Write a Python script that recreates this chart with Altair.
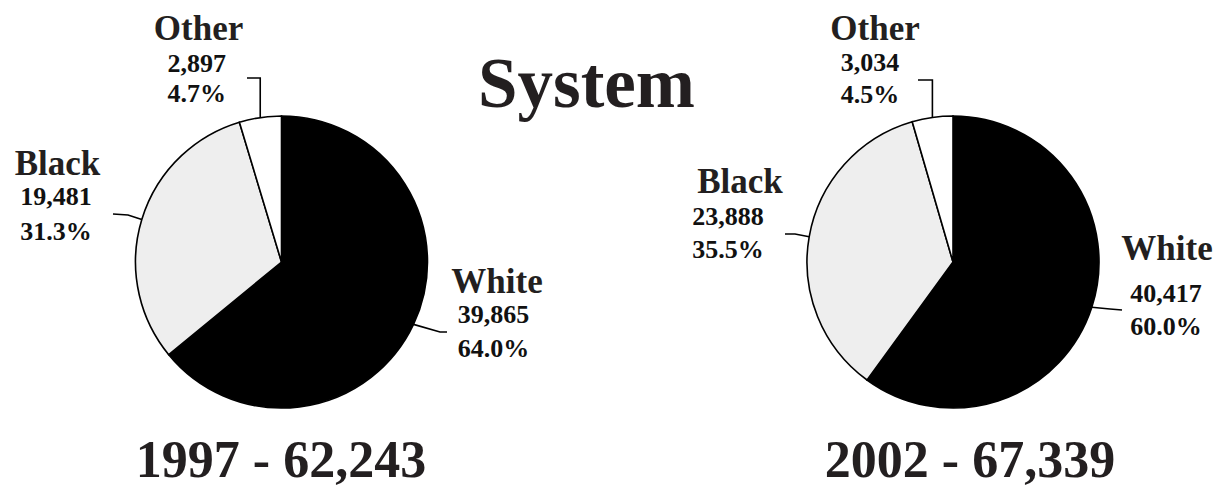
import altair as alt
import pandas as pd
import numpy as np

# ---------------- data ----------------
years = ["1997", "2002"]
categories = ["White", "Black", "Other"]
values_1997 = [39865, 19481, 2897]
values_2002 = [40417, 23888, 3034]
title_text = "System"
slice_colors = ["#000000", "#eeeeee", "#ffffff"]

# ---------------- layout (page pixels, converted to plot pixels below) ----------------
OFF = 8
W, H = 1208, 479
R = 146
centers = {"1997": (281.5, 262), "2002": (953, 262)}
# name_x, name_baseline, number_x, number_baseline, percent_baseline
label_layout = {
    ("1997", "White"): (497, 293, 493.5, 323, 357),
    ("1997", "Black"): (57.5, 175, 56, 205, 240),
    ("1997", "Other"): (198.5, 40, 196.7, 72, 102),
    ("2002", "White"): (1167, 260, 1166, 302, 335),
    ("2002", "Black"): (740, 193, 728, 225, 258),
    ("2002", "Other"): (875, 40, 870, 71, 103),
}
# leader elbows/ends (after the start point on the rim)
leader_layout = {
    ("1997", "White"): [(440, 332), (447, 332)],
    ("1997", "Black"): [(128, 215), (113, 214)],
    ("1997", "Other"): ["vertical", 78, 247],
    ("2002", "White"): [(1110, 309), (1122, 310)],
    ("2002", "Black"): [(795, 234), (785, 234)],
    ("2002", "Other"): ["vertical", 80, 918],
}
bottom_layout = {"1997": (281, 477), "2002": (970, 477)}
title_pos = (586.5, 107)

values = {"1997": values_1997, "2002": values_2002}

# ---------------- build tables ----------------
pie_rows, name_rows, num_rows, line_rows, bottom_rows = [], [], [], [], []
for yr in years:
    vals = values[yr]
    total = sum(vals)
    cx, cy = centers[yr]
    cum = 0.0
    for i, (cat, v) in enumerate(zip(categories, vals)):
        frac = v / total
        pie_rows.append(dict(year=yr, category=cat, idx=i, frac=frac,
                             cx=cx - OFF, cy=cy - OFF))
        mid = 2 * np.pi * (cum + frac / 2)
        cum += frac
        sx = cx + R * np.sin(mid)
        sy = cy - R * np.cos(mid)
        pts = [(sx, sy)]
        lay = leader_layout[(yr, cat)]
        if lay[0] == "vertical":
            pts += [(sx, lay[1]), (lay[2], lay[1])]
        else:
            pts += lay
        for k, (px, py) in enumerate(pts):
            line_rows.append(dict(g=f"{yr}-{cat}", seq=k, x=px - OFF, y=py - OFF))
        nx, ny, mx, my, py_ = label_layout[(yr, cat)]
        name_rows.append(dict(text=cat, x=nx - OFF, y=ny - OFF))
        num_rows.append(dict(text=f"{v:,}", x=mx - OFF, y=my - OFF))
        num_rows.append(dict(text=f"{100 * frac:.1f}%", x=mx - OFF, y=py_ - OFF))
    bx, by = bottom_layout[yr]
    bottom_rows.append(dict(text=f"{yr} - {total:,}", x=bx - OFF, y=by - OFF))

pie_df = pd.DataFrame(pie_rows)
name_df = pd.DataFrame(name_rows)
num_df = pd.DataFrame(num_rows)
line_df = pd.DataFrame(line_rows)
bottom_df = pd.DataFrame(bottom_rows)
title_df = pd.DataFrame([dict(text=title_text, x=title_pos[0] - OFF, y=title_pos[1] - OFF)])

FONT = "Liberation Serif"
PX = lambda f: alt.X(f"{f}:Q", scale=None, axis=None)
PY = lambda f: alt.Y(f"{f}:Q", scale=None, axis=None)

layers = []
for yr in years:
    pie = alt.Chart(pie_df).transform_filter(alt.datum.year == yr).mark_arc(
        radius=R, stroke="black", strokeWidth=1.6
    ).encode(
        theta=alt.Theta("frac:Q", stack=True, scale=alt.Scale(domain=[0, 1])),
        order=alt.Order("idx:Q"),
        color=alt.Color("category:N", scale=alt.Scale(domain=categories, range=slice_colors), legend=None),
        x=PX("cx"),
        y=PY("cy"),
    )
    layers.append(pie)

lines = alt.Chart(line_df).mark_line(color="black", strokeWidth=1.6).encode(
    x=PX("x"), y=PY("y"), detail="g:N", order="seq:Q"
)

names = alt.Chart(name_df).mark_text(
    font=FONT, fontWeight="bold", fontSize=35, color="#231f20", align="center", baseline="alphabetic"
).encode(x=PX("x"), y=PY("y"), text="text:N")

nums = alt.Chart(num_df).mark_text(
    font=FONT, fontWeight="bold", fontSize=26, color="#111111", align="center", baseline="alphabetic"
).encode(x=PX("x"), y=PY("y"), text="text:N")

title = alt.Chart(title_df).mark_text(
    font=FONT, fontWeight="bold", fontSize=71, color="#231f20", align="center", baseline="alphabetic"
).encode(x=PX("x"), y=PY("y"), text="text:N")

bottom = alt.Chart(bottom_df).mark_text(
    font=FONT, fontWeight="bold", fontSize=52, color="#231f20", align="center", baseline="alphabetic"
).encode(x=PX("x"), y=PY("y"), text="text:N")

chart = alt.layer(*layers, lines, names, nums, title, bottom).resolve_scale(
    theta="independent"
).properties(
    width=W, height=H, padding=0, autosize=alt.AutoSizeParams(type="none"),
    background="white"
).configure_view(stroke=None)

chart.save("out.html", embed_options={"renderer": "svg", "actions": False})
